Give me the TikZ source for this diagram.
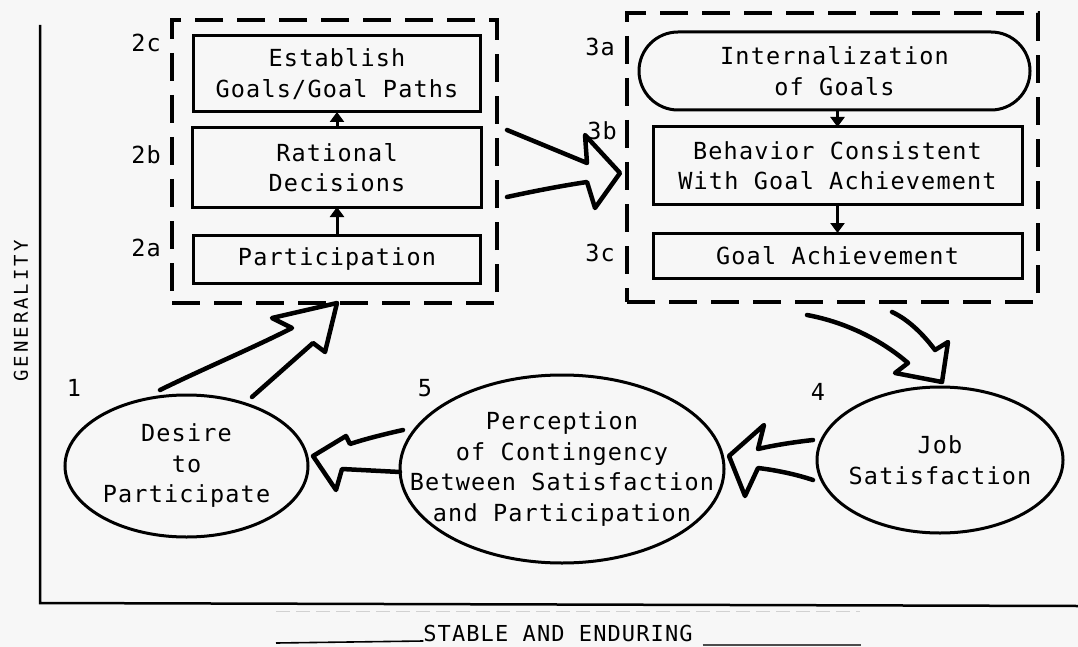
\documentclass[tikz,border=0pt]{standalone}
\usepackage{fontspec}
\newfontfamily\twf[LetterSpace=5]{DejaVu Sans Mono}
\newfontfamily\genf[LetterSpace=16]{DejaVu Sans Mono}
\usetikzlibrary{arrows.meta,shapes.geometric,calc}
\begin{document}
\begin{tikzpicture}[x=1pt,y=-1pt,
  every node/.style={inner sep=0pt, outer sep=0pt},
  tw/.style={font=\twf\fontsize{23.5}{30.5}\selectfont, align=center},
  stagebox/.style={draw, rectangle, line width=3pt},
  groupbox/.style={draw, rectangle, line width=4.5pt, dash pattern=on 28pt off 14pt},
  oval/.style={draw, ellipse, line width=3pt},
  flow/.style={line width=3pt, -{Triangle[length=10pt,width=14pt]}},
  hollow/.style={line width=4.5pt, line join=round, line cap=round},
  axisline/.style={line width=2.5pt}
]
% paper
\fill[black!3] (0,0) rectangle (1078,647);
\useasboundingbox (0,0) rectangle (1078,647);

% axes
\coordinate (ytop) at (40,25);
\coordinate (origin) at (40,603);
\coordinate (xend) at (1078,606);
\draw[axisline] (ytop) -- (origin) -- (xend);
\node[font=\genf\fontsize{19}{20}\selectfont, rotate=90] (yname) at (21,311) {GENERALITY};
\node[font=\twf\fontsize{22}{26}\selectfont, anchor=base] (xname) at (558,641) {STABLE AND ENDURING};
\draw[line width=1.6pt] (276,643) -- (xname.base west);
\draw[line width=1.4pt, black!70] ($(xname.base east)+(10,4)$) -- (861,645);
\draw[line width=1pt, black!18, dash pattern=on 14pt off 6pt] (276,611) -- (860,611);

% group 2: participation leads to goal setting
\node[groupbox, minimum width=325pt, minimum height=283pt] (g2) at (334.5,161.5) {};
\node[stagebox, tw, minimum width=287pt, minimum height=76pt] (est) at (337,74) {Establish\\Goals/Goal Paths};
\node[stagebox, tw, minimum width=289pt, minimum height=79pt] (rat) at (337,167.5) {Rational\\Decisions};
\node[stagebox, tw, minimum width=287pt, minimum height=48pt] (par) at (337,259) {Participation};
\draw[flow] (par.north) -- (rat.south);
\draw[flow] (rat.north) -- (est.south);
\node[tw] (l2c) at (146,43) {2c};
\node[tw] (l2b) at (146,155) {2b};
\node[tw] (l2a) at (146,248) {2a};

% group 3: goals are internalized and achieved
\node[groupbox, minimum width=411pt, minimum height=289pt] (g3) at (832.5,157.5) {};
\node[draw, line width=3pt, rectangle, rounded corners=39pt, minimum width=391pt, minimum height=78pt, tw] (int) at (834.5,71) {Internalization\\of Goals};
\node[stagebox, tw, minimum width=369pt, minimum height=77pt] (beh) at (837.5,165.5) {Behavior Consistent\\With Goal Achievement};
\node[stagebox, tw, minimum width=369pt, minimum height=45pt] (gach) at (837.5,255.5) {Goal Achievement};
\draw[flow] (beh.north |- int.south) -- (beh.north);
\draw[flow] (beh.south) -- (gach.north);
\node[tw] (l3a) at (600,47) {3a};
\node[tw] (l3b) at (602,131) {3b};
\node[tw] (l3c) at (600,253) {3c};

% outcomes
\node[oval, minimum width=243pt, minimum height=142pt] (desire) at (186.5,466) {};
\node[tw] at (desire.center) {Desire\\to\\Participate};
\node[oval, minimum width=324pt, minimum height=188pt] (perc) at (562,469) {};
\node[tw] at (perc.center) {Perception\\of Contingency\\Between Satisfaction\\and Participation};
\node[oval, minimum width=246pt, minimum height=146pt] (job) at (940,460) {};
\node[tw] at (job.center) {Job\\Satisfaction};
\node[tw] (l1) at (74,388) {1};
\node[tw] (l5) at (425,388) {5};
\node[tw] (l4) at (818,392) {4};

% broad hollow arrows between the stages
% desire -> group 2
\draw[hollow] (160,390) .. controls (205,368) and (255,347) .. (292,328)
  -- (272,318) -- (337,303) -- (325,352) -- (313,343) -- (252,397);
% group 2 -> group 3
\draw[hollow] (507,130) -- (587,163) -- (585,135) -- (620,173)
  -- (595,208) -- (587,182) .. controls (560,186) and (530,192) .. (507,197);
% group 3 -> job satisfaction
\draw[hollow] (807,315) .. controls (850,323) and (885,343) .. (908,363)
  -- (895,373) -- (942,382) -- (948,342) -- (935,350)
  .. controls (920,330) and (905,318) .. (892,312);
% job satisfaction -> perception
\draw[hollow] (813,440) .. controls (795,442) and (775,445) .. (758,449)
  -- (764,425) -- (729,456) -- (745,496) -- (758,468)
  .. controls (775,470) and (795,474) .. (813,480);
% perception -> desire
\draw[hollow] (403,430) .. controls (385,434) and (365,439) .. (350,444)
  -- (346,436) -- (313,456) -- (336,490) -- (342,469) -- (400,472);
\end{tikzpicture}
\end{document}
